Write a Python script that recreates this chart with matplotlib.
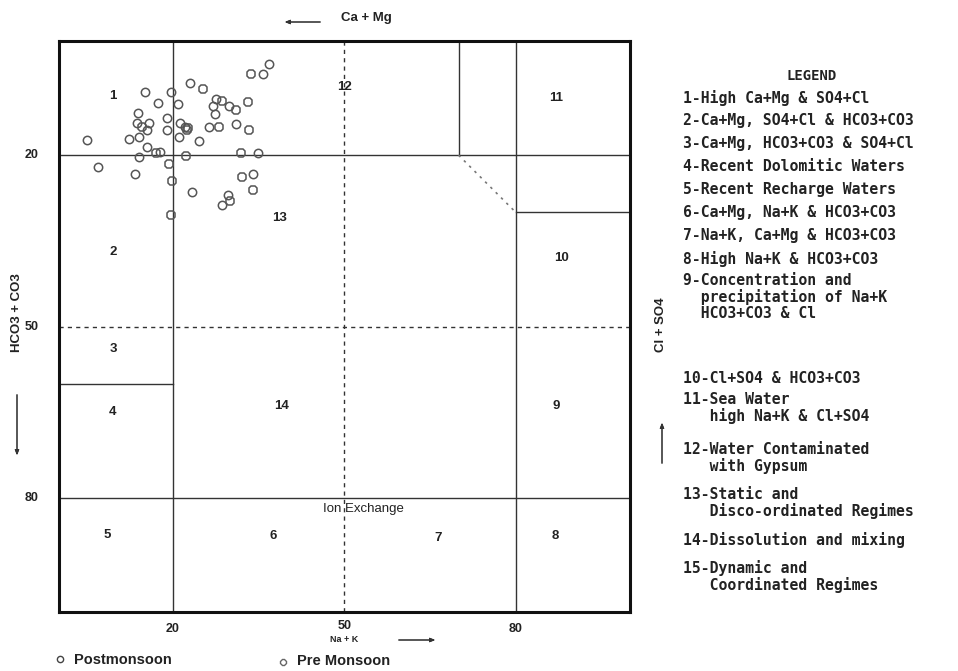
import matplotlib
matplotlib.use("Agg")
import matplotlib.pyplot as plt
from matplotlib.lines import Line2D

# sample positions in percent (Na+K on x, HCO3+CO3 on y, y grows downward)
post_x = [36.8, 35.8, 23.0, 15.1, 19.6, 17.4, 20.8, 27.5, 29.8, 27.3, 13.9, 19.0,
          13.7, 15.8, 15.5, 19.0, 21.2, 22.1, 26.3, 31.0, 5.0, 12.3, 14.1, 21.0,
          24.6, 15.5, 17.8, 14.1, 34.9, 6.8, 13.3, 34.0, 23.3, 29.6, 28.5, 27.0]
post_y = [4.1, 5.8, 7.4, 8.9, 8.9, 10.8, 11.1, 10.2, 11.3, 12.7, 12.6, 13.5,
          14.3, 14.4, 15.6, 15.5, 14.4, 15.0, 15.0, 14.5, 17.3, 17.2, 16.9, 16.9,
          17.6, 18.6, 19.4, 20.4, 19.7, 22.1, 23.3, 23.3, 26.5, 27.0, 28.7, 11.3]
pre_x = [33.6, 25.3, 28.6, 31.0, 33.2, 14.5, 22.7, 22.4, 28.0, 33.3, 17.1, 22.2,
         31.9, 19.3, 32.1, 19.8, 34.0, 29.9, 19.6]
pre_y = [5.7, 8.4, 10.5, 12.1, 10.6, 15.0, 15.2, 15.5, 15.0, 15.6, 19.6, 20.1,
         19.7, 21.5, 23.8, 24.5, 26.1, 28.1, 30.4]

# field boundaries of the diagram
solid_lines = [([20, 20], [0, 100]), ([80, 80], [0, 100]), ([0, 100], [20, 20]),
               ([0, 100], [80, 80]), ([0, 20], [60, 60]), ([70, 70], [0, 20]),
               ([80, 100], [30, 30])]
dashed_lines = [([50, 50], [0, 100]), ([0, 100], [50, 50])]
dotted_lines = [([70, 80], [20, 30])]

region_names = ["1", "12", "11", "13", "2", "10", "3", "4", "14", "9", "5", "6", "7", "8"]
region_x = [9.5, 50, 87, 38.7, 9.5, 88, 9.5, 9.5, 39, 87, 8.5, 37.5, 66.5, 87]
region_y = [9.6, 8, 10, 31, 37, 38, 54, 65, 64, 64, 86.5, 86.7, 87, 86.7]

tick_vals = [20, 50, 80]

legend_lines = [
    "1-High Ca+Mg & SO4+Cl",
    "2-Ca+Mg, SO4+Cl & HCO3+CO3",
    "3-Ca+Mg, HCO3+CO3 & SO4+Cl",
    "4-Recent Dolomitic Waters",
    "5-Recent Recharge Waters",
    "6-Ca+Mg, Na+K & HCO3+CO3",
    "7-Na+K, Ca+Mg & HCO3+CO3",
    "8-High Na+K & HCO3+CO3",
    "9-Concentration and\n  precipitation of Na+K\n  HCO3+CO3 & Cl",
    "10-Cl+SO4 & HCO3+CO3",
    "11-Sea Water\n   high Na+K & Cl+SO4",
    "12-Water Contaminated\n   with Gypsum",
    "13-Static and\n   Disco-ordinated Regimes",
    "14-Dissolution and mixing",
    "15-Dynamic and\n   Coordinated Regimes",
]
legend_top = [97, 120, 143, 166, 189, 212, 235, 258, 280, 378, 399, 449, 494, 539, 567]

W, H = 958, 671


def fp(x, y):
    return (x / W, 1 - y / H)


fig = plt.figure(figsize=(W / 100, H / 100), dpi=100)
ax = fig.add_axes([58.7 / W, 1 - 612 / H, 571.3 / W, 571 / H])
ax.set_xlim(0, 100)
ax.set_ylim(100, 0)
ax.set_xticks([])
ax.set_yticks([])
for s in ax.spines.values():
    s.set_linewidth(2.2)
    s.set_color("#111111")

for xs, ys in solid_lines:
    ax.plot(xs, ys, color="#333333", lw=1.0)
for xs, ys in dashed_lines:
    ax.plot(xs, ys, color="#333333", lw=1.0, ls=(0, (3, 3)))
for xs, ys in dotted_lines:
    ax.plot(xs, ys, color="#777777", lw=1.2, ls=(0, (1.5, 3)))

ax.plot(post_x, post_y, "o", ms=6, mfc="none", mec="#555555", mew=1.1)
ax.plot(pre_x, pre_y, "8", ms=6, mfc="none", mec="#555555", mew=1.1)

bold = dict(family="Liberation Sans", weight="bold", color="#222222")
for name, x, y in zip(region_names, region_x, region_y):
    ax.text(x, y, name, ha="center", va="center", fontsize=9.5, **bold)
ax.text(53.4, 82, "Ion Exchange", ha="center", va="center", fontsize=9.5,
        family="Liberation Sans", color="#222222")

# tick labels
for v in tick_vals:
    ax.text(v, 102.0 if v != 50 else 101.4, str(v), ha="center", va="top",
            fontsize=9, **bold)
    ax.text(-3.5, v, str(v), ha="right", va="center", fontsize=9, **bold)

# axis titles with arrows
arrow = dict(arrowstyle="-|>,head_length=0.3,head_width=0.12", color="#333333", lw=0.8)
fig.text(*fp(366, 18), "Ca + Mg", ha="center", va="center", fontsize=9.5, **bold)
fig.add_artist(plt.annotate("", xy=fp(282, 22), xytext=fp(323, 22),
                            xycoords="figure fraction", arrowprops=arrow))
fig.text(*fp(344, 640), "Na + K", ha="center", va="center", fontsize=6.5, **bold)
fig.add_artist(plt.annotate("", xy=fp(438, 640), xytext=fp(396, 640),
                            xycoords="figure fraction", arrowprops=arrow))
fig.text(*fp(17, 313), "HCO3 + CO3", ha="center", va="center", rotation=90,
         fontsize=9.5, **bold)
fig.add_artist(plt.annotate("", xy=fp(17, 458), xytext=fp(17, 392),
                            xycoords="figure fraction", arrowprops=arrow))
fig.text(*fp(661, 325), "Cl + SO4", ha="center", va="center", rotation=90,
         fontsize=9.5, **bold)
fig.add_artist(plt.annotate("", xy=fp(662, 420), xytext=fp(662, 466),
                            xycoords="figure fraction", arrowprops=arrow))

# season markers under the plot
fig.add_artist(Line2D([60 / W], [1 - 659 / H], marker="o", ms=4.5, mfc="none",
                      mec="#444444", mew=1.0, transform=fig.transFigure))
fig.text(*fp(74, 660), "Postmonsoon", ha="left", va="center", fontsize=10.5, **bold)
fig.add_artist(Line2D([283 / W], [1 - 662 / H], marker="8", ms=4.5, mfc="none",
                      mec="#666666", mew=1.0, transform=fig.transFigure))
fig.text(*fp(297, 661), "Pre Monsoon", ha="left", va="center", fontsize=10.5, **bold)

# legend of field names
mono = dict(family="DejaVu Sans Mono", weight="bold", color="#222222", fontsize=10.6)
fig.text(*fp(812, 76), "LEGEND", ha="center", va="center",
         **{**mono, "fontsize": 10})
for txt, y in zip(legend_lines, legend_top):
    fig.text(*fp(683, y - 7), txt, ha="left", va="top", linespacing=1.06, **mono)

fig.savefig("out.png", dpi=100)
